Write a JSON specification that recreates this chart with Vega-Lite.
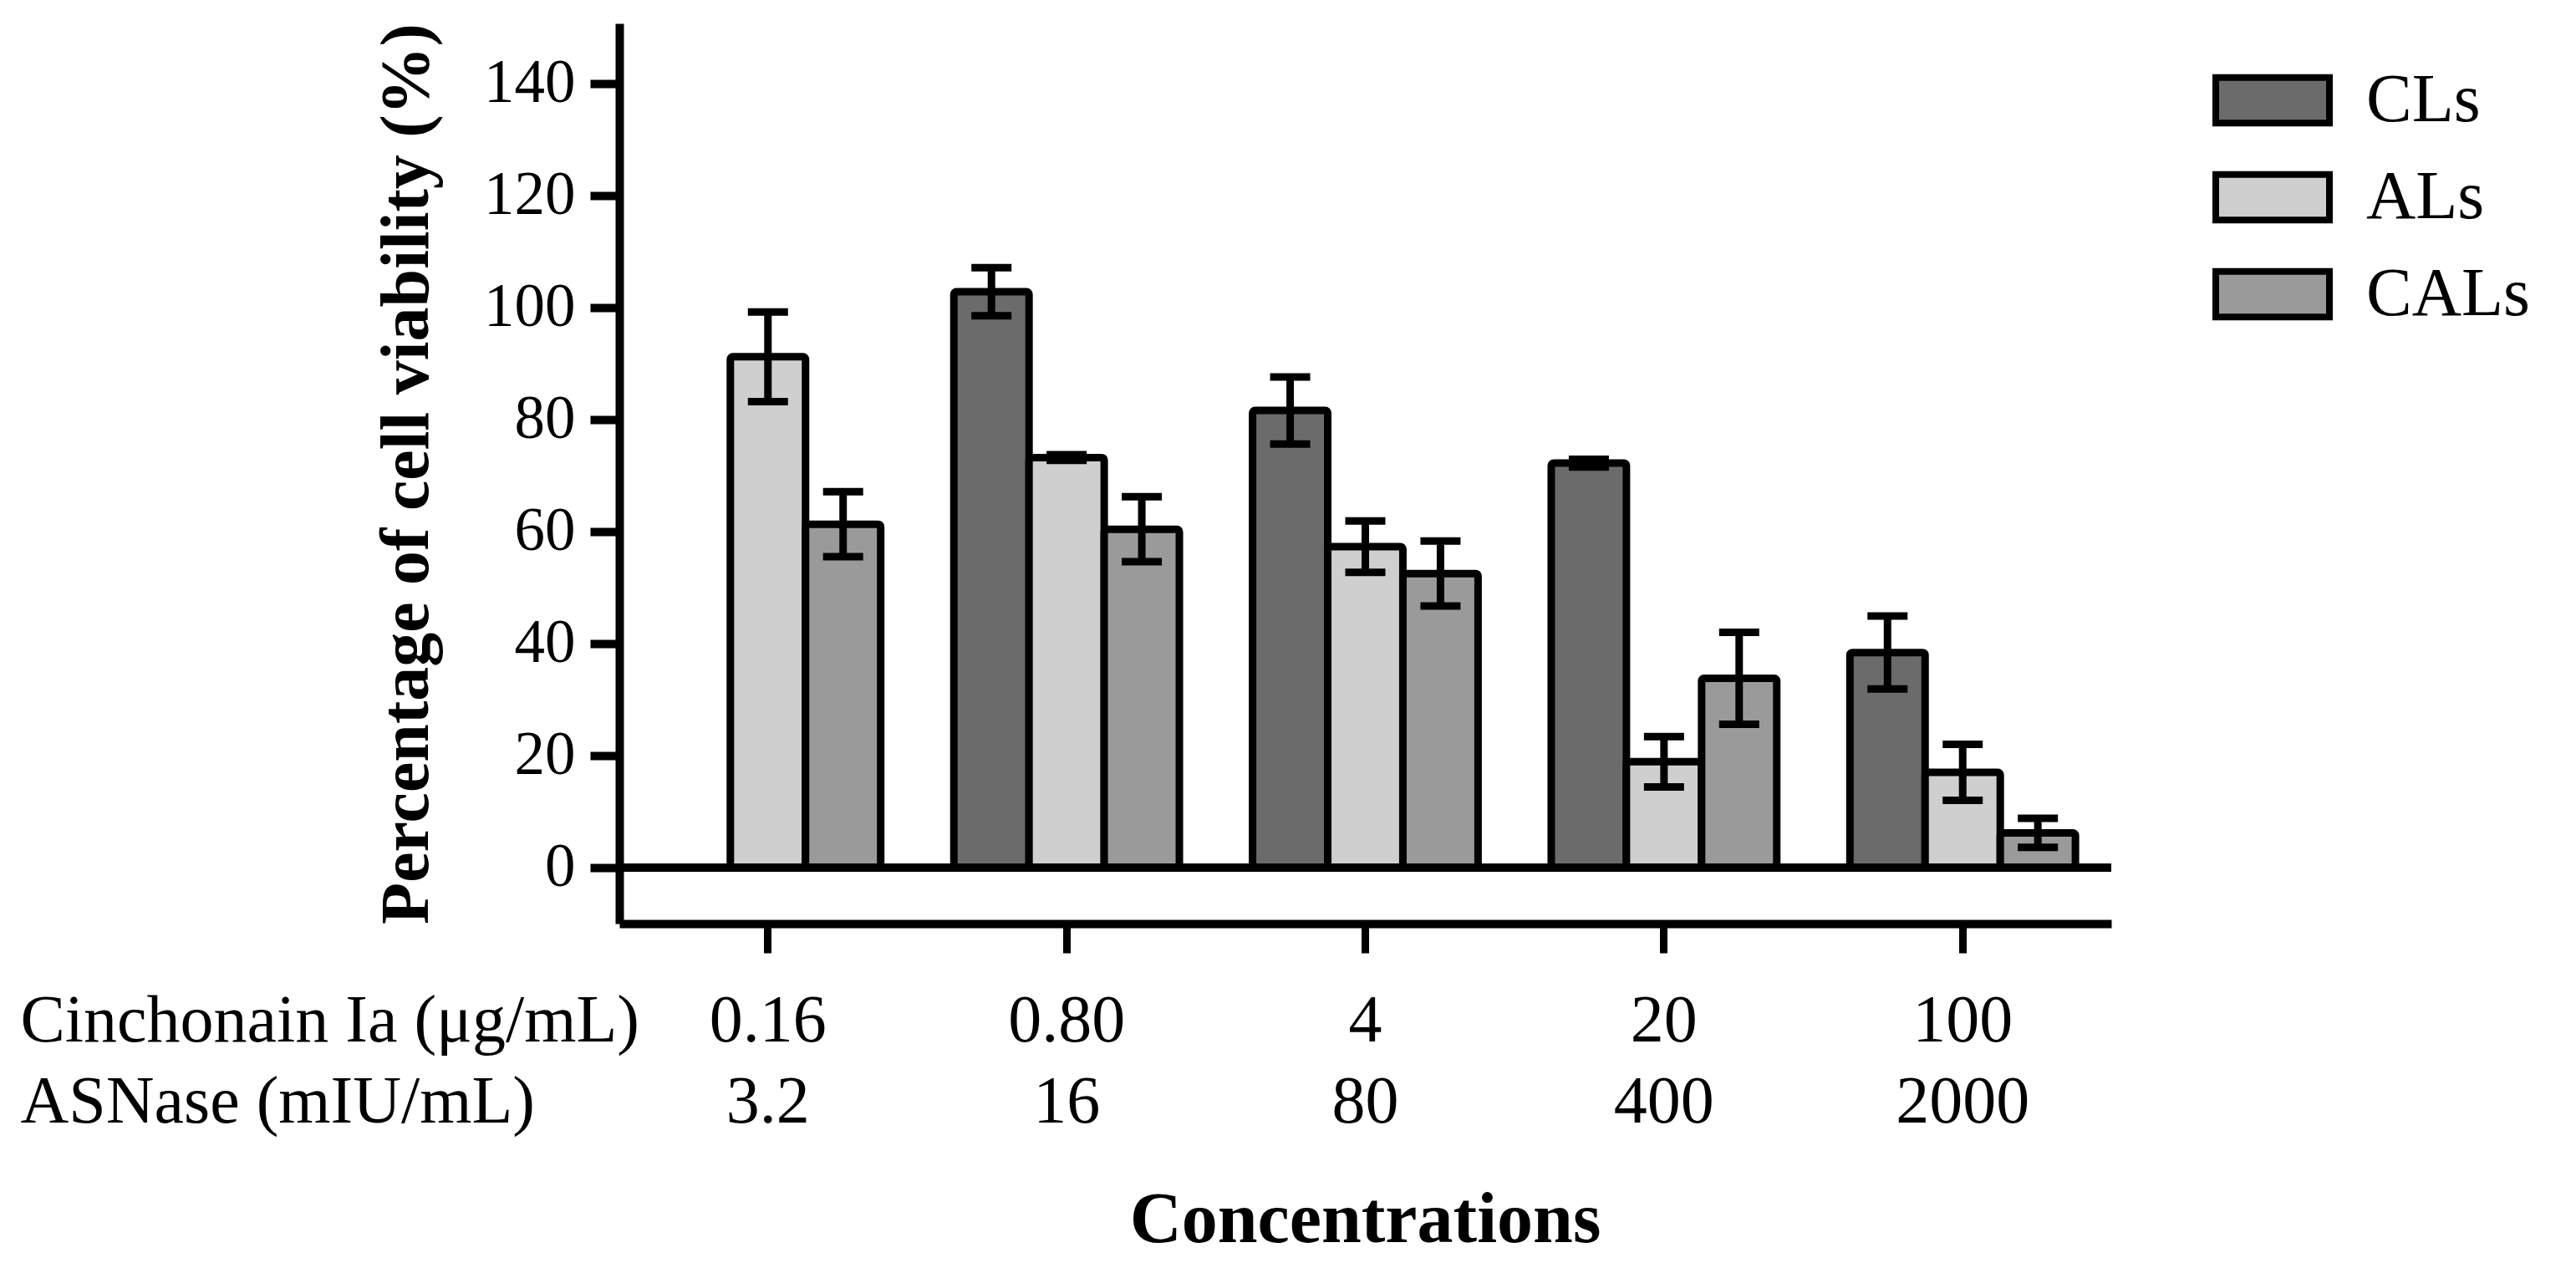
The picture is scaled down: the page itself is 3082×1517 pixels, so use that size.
{
  "$schema": "https://vega.github.io/schema/vega-lite/v6.json",
  "autosize": {"type": "none"},
  "padding": {"left": 741, "top": 28, "right": 556, "bottom": 412},
  "width": 1785,
  "height": 1077,
  "background": "white",
  "config": {
    "font": "Liberation Serif",
    "view": {"stroke": null},
    "axis": {"grid": false, "domainColor": "black", "tickColor": "black", "labelColor": "black", "titleColor": "black"}
  },
  "title": {"text": "Concentrations", "orient": "bottom", "fontSize": 86, "fontWeight": "bold", "font": "Liberation Serif", "offset": 60, "anchor": "middle", "color": "black"},
  "data": {
    "values": [
      {"conc": "0.16|3.2", "series": "ALs", "mean": 91.2, "sem": 8.0},
      {"conc": "0.16|3.2", "series": "CALs", "mean": 61.3, "sem": 5.8},
      {"conc": "0.80|16", "series": "CLs", "mean": 102.8, "sem": 4.3},
      {"conc": "0.80|16", "series": "ALs", "mean": 73.2, "sem": 0.5},
      {"conc": "0.80|16", "series": "CALs", "mean": 60.4, "sem": 5.8},
      {"conc": "4|80", "series": "CLs", "mean": 81.6, "sem": 6.0},
      {"conc": "4|80", "series": "ALs", "mean": 57.3, "sem": 4.6},
      {"conc": "4|80", "series": "CALs", "mean": 52.5, "sem": 5.8},
      {"conc": "20|400", "series": "CLs", "mean": 72.2, "sem": 0.7},
      {"conc": "20|400", "series": "ALs", "mean": 18.9, "sem": 4.5},
      {"conc": "20|400", "series": "CALs", "mean": 33.8, "sem": 8.2},
      {"conc": "100|2000", "series": "CLs", "mean": 38.4, "sem": 6.5},
      {"conc": "100|2000", "series": "ALs", "mean": 17.0, "sem": 5.0},
      {"conc": "100|2000", "series": "CALs", "mean": 6.2, "sem": 2.6}
    ]
  },
  "encoding": {
    "x": {
      "field": "conc", "type": "nominal", "sort": null,
      "scale": {"paddingInner": 0.245, "paddingOuter": 0.12},
      "axis": {
        "labelAngle": 0,
        "labelExpr": "split(datum.value, '|')",
        "labelFontSize": 80,
        "labelLineHeight": 97,
        "labelPadding": 42,
        "labelBaseline": "top",
        "tickSize": 35,
        "tickWidth": 9,
        "domainWidth": 10,
        "title": ["Cinchonain Ia (μg/mL)", "ASNase (mIU/mL)"],
        "titleFontSize": 80,
        "titleFontWeight": "normal",
        "titleLineHeight": 97,
        "titleX": -717,
        "titleY": 140,
        "titleAlign": "left",
        "titleAnchor": "start",
        "titleBaseline": "alphabetic",
        "titleAngle": 0
      }
    },
    "xOffset": {"field": "series", "type": "nominal", "scale": {"domain": ["CLs", "ALs", "CALs"], "paddingInner": 0, "paddingOuter": 0}},
    "y": {
      "field": "mean", "type": "quantitative",
      "scale": {"domain": [-10, 150.7], "nice": false, "zero": false},
      "axis": {
        "values": [0, 20, 40, 60, 80, 100, 120, 140],
        "labelFontSize": 73,
        "labelPadding": 18,
        "tickSize": 35,
        "tickWidth": 10,
        "domainWidth": 10,
        "title": "Percentage of cell viability (%)",
        "titleFontSize": 82,
        "titleFontWeight": "bold",
        "titlePadding": 50
      }
    }
  },
  "layer": [
    {
      "mark": {"type": "bar", "stroke": "black", "strokeWidth": 9, "cornerRadius": 3},
      "encoding": {
        "y2": {"datum": 0},
        "fill": {
          "field": "series", "type": "nominal",
          "scale": {"domain": ["CLs", "ALs", "CALs"], "range": ["#6b6b6b", "#cfcfcf", "#9a9a9a"]},
          "legend": {
            "orient": "none", "legendX": 1906, "legendY": 20, "title": null,
            "symbolType": "M-1,-0.4H1V0.4H-1Z", "symbolSize": 18496,
            "symbolStrokeColor": "black", "symbolStrokeWidth": 8, "symbolOpacity": 1,
            "labelFontSize": 82, "labelOffset": 40, "labelLimit": 0, "rowPadding": -8, "labelColor": "black"
          }
        }
      }
    },
    {
      "mark": {"type": "errorbar", "color": "black", "opacity": 1, "ticks": {"size": 48, "thickness": 9, "color": "black", "opacity": 1}, "rule": {"strokeWidth": 9, "color": "black", "opacity": 1}},
      "encoding": {
        "yError": {"field": "sem"}
      }
    },
    {
      "mark": {"type": "rule", "color": "black", "strokeWidth": 10},
      "encoding": {"y": {"datum": 0}, "x": null, "xOffset": null}
    }
  ]
}
